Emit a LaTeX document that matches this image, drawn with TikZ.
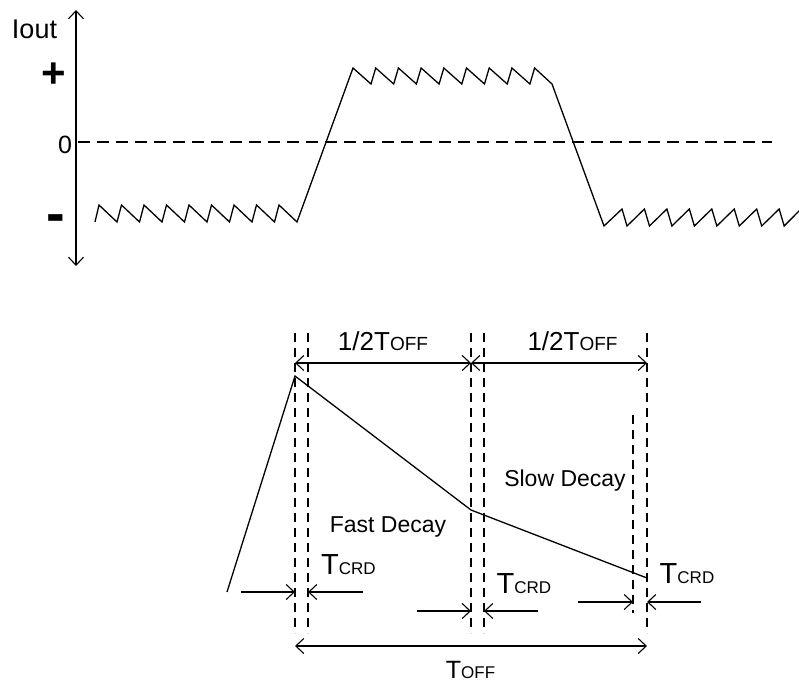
\documentclass[tikz,border=0pt]{standalone}
\usepackage{fontspec}
\setmainfont{Liberation Sans}
\usetikzlibrary{arrows.meta}
\newcommand{\fs}[1]{\fontsize{#1}{#1}\selectfont}
\begin{document}
\begin{tikzpicture}[x=1pt,y=-1pt,
  wave/.style={line width=1.3pt, line join=miter},
  zeroline/.style={line width=1.1pt, dash pattern=on 12pt off 7pt},
  guide/.style={line width=1.1pt, dash pattern=on 9pt off 6pt},
  dim/.style={line width=1.1pt, {Straight Barb[length=8pt,width=15pt]}-{Straight Barb[length=8pt,width=15pt]}},
  onetip/.style={line width=1.1pt, -{Straight Barb[length=8pt,width=15pt]}},
  lbl/.style={inner sep=0pt, anchor=base}]
\useasboundingbox (0,0) rectangle (799,683);

% ---- upper graph ----
\coordinate (axtop) at (76,10);
\coordinate (axbot) at (76,266);
\draw[dim] (axtop) -- (axbot);
\node[lbl] (iout) at (34.5,38) {\fs{27}Iout};
\node[inner sep=0pt] (plus) at (53.5,75) {\fs{42}\bfseries +};
\node[lbl] (zero) at (65,153) {\fs{25}0};
\node[inner sep=0pt] (minus) at (56,224) {\fs{56}\bfseries -};
\coordinate (z0) at (78,142);
\coordinate (z1) at (772,142);
\draw[zeroline] (z0) -- (z1);

\begin{scope}
\clip (0,0) rectangle (799,683);
\draw[wave] (95,222)
  \foreach \i in {0,...,8}{ -- ({99+22.5*\i},205) -- ({117+22.5*\i},222) }
  -- (353,68)
  \foreach \i in {0,...,7}{ -- ({353+22.7*\i+18},84) -- ({353+22.7*(\i+1)},68) }
  -- (552,84) -- (604,226)
  \foreach \i in {0,...,7}{ -- ({622+22.45*\i},209) -- ({627+22.45*\i},226) }
  -- (801,209);
\end{scope}

% ---- lower graph ----
\coordinate (a1) at (295,333); \coordinate (a2) at (295,633);
\coordinate (b1) at (308,333); \coordinate (b2) at (308,633);
\coordinate (c1) at (471,333); \coordinate (c2) at (471,633);
\coordinate (d1) at (484,333); \coordinate (d2) at (484,633);
\coordinate (e1) at (633,415); \coordinate (e2) at (633,613);
\coordinate (f1) at (647,333); \coordinate (f2) at (647,633);
\foreach \p in {a,b,c,d,e,f}{\draw[guide] (\p1) -- (\p2);}

% half T_off dimensions
\coordinate (h0) at (295,363); \coordinate (h1) at (471,363); \coordinate (h2) at (647,363);
\draw[dim] (h0) -- (h1);
\draw[dim] (h1) -- (h2);
\node[lbl] (half1) at (383,350) {\fs{26}1/2T\fs{19}OFF};
\node[lbl] (half2) at (572.5,350) {\fs{26}1/2T\fs{19}OFF};

% current waveform
\coordinate (w0) at (227,592);
\coordinate (w1) at (295,376);
\coordinate (w2) at (471,510);
\coordinate (w3) at (647,578);
\draw[wave] (w0) -- (w1) -- (w2) -- (w3);

\node[lbl] (fast) at (388,532) {\fs{23}Fast Decay};
\node[lbl] (slow) at (565,486) {\fs{23}Slow Decay};

% T_CRD markers
\coordinate (t1l) at (241,592); \coordinate (t1a) at (295,592);
\coordinate (t1r) at (363,592); \coordinate (t1b) at (308,592);
\draw[onetip] (t1l) -- (t1a);
\draw[onetip] (t1r) -- (t1b);
\node[lbl] (tcrd1) at (348.5,574) {\fs{29}T\fs{17}CRD};

\coordinate (t2l) at (417,611); \coordinate (t2a) at (471,611);
\coordinate (t2r) at (538,611); \coordinate (t2b) at (484,611);
\draw[onetip] (t2l) -- (t2a);
\draw[onetip] (t2r) -- (t2b);
\node[lbl] (tcrd2) at (524,593) {\fs{29}T\fs{17}CRD};

\coordinate (t3l) at (578,602); \coordinate (t3a) at (633,602);
\coordinate (t3r) at (701,602); \coordinate (t3b) at (647,602);
\draw[onetip] (t3l) -- (t3a);
\draw[onetip] (t3r) -- (t3b);
\node[lbl] (tcrd3) at (687,583) {\fs{29}T\fs{17}CRD};

% T_off
\coordinate (o0) at (295,646); \coordinate (o1) at (647,646);
\draw[dim] (o0) -- (o1);
\node[lbl] (toff) at (470.5,678) {\fs{25}T\fs{17}OFF};
\end{tikzpicture}
\end{document}
